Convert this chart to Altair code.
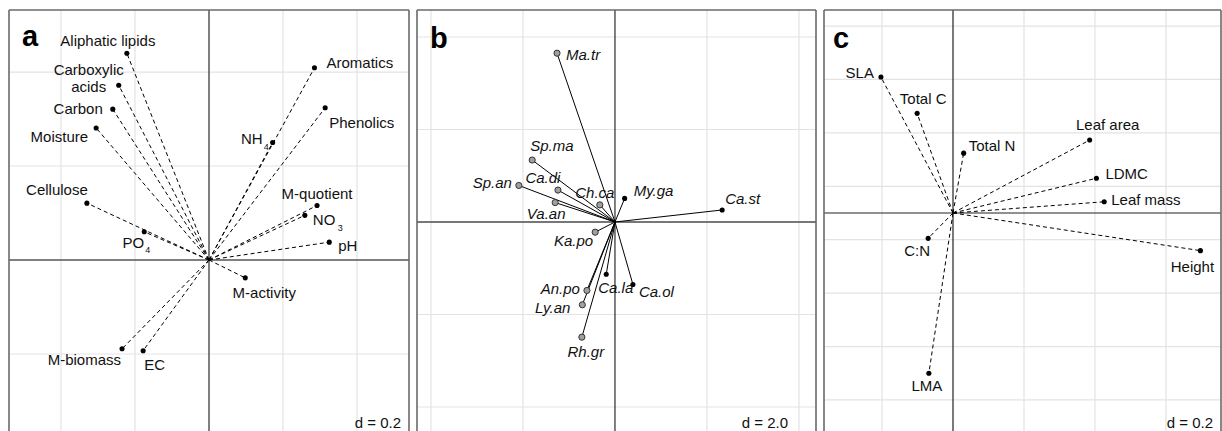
import altair as alt
import pandas as pd

FONT = "Liberation Sans"

# ---------------- Panel a : soil variables ----------------
a_vars = ["Aliphatic lipids", "Carboxylic acids", "Carbon", "Moisture", "Cellulose",
          "PO4", "M-biomass", "EC", "M-activity", "pH", "NO3", "M-quotient",
          "NH4", "Aromatics", "Phenolics"]
a_text = ["Aliphatic lipids", "Carboxylic\nacids", "Carbon", "Moisture", "Cellulose",
          "PO", "M-biomass", "EC", "M-activity", "pH", "NO", "M-quotient",
          "NH", "Aromatics", "Phenolics"]
a_sub = ["", "", "", "", "", "4", "", "", "", "", "3", "", "4", "", ""]
a_x = [-0.222, -0.244, -0.260, -0.305, -0.330, -0.175, -0.235, -0.178, 0.098,
       0.325, 0.259, 0.292, 0.172, 0.285, 0.314]
a_y = [0.440, 0.372, 0.321, 0.281, 0.121, 0.060, -0.189, -0.193, -0.038,
       0.038, 0.095, 0.116, 0.250, 0.409, 0.324]

# ---------------- Panel b : species ----------------
b_species = ["Ma.tr", "Sp.ma", "Sp.an", "Ca.di", "Ch.ca", "My.ga", "Ca.st", "Va.an",
             "Ka.po", "Ca.la", "Ca.ol", "An.po", "Ly.an", "Rh.gr"]
b_x = [-1.26, -1.80, -2.09, -1.24, -0.33, 0.21, 2.33, -1.30, -0.43, -0.19, 0.39,
       -0.61, -0.71, -0.72]
b_y = [3.65, 1.34, 0.79, 0.69, 0.37, 0.51, 0.26, 0.42, -0.22, -1.13, -1.35,
       -1.48, -1.79, -2.49]
b_group = ["grey", "grey", "grey", "grey", "grey", "black", "black", "grey",
           "grey", "black", "black", "grey", "grey", "grey"]

# ---------------- Panel c : leaf traits ----------------
c_traits = ["SLA", "Total C", "Total N", "Leaf area", "LDMC", "Leaf mass",
            "Height", "C:N", "LMA"]
c_x = [-0.203, -0.101, 0.030, 0.385, 0.404, 0.426, 0.697, -0.070, -0.068]
c_y = [0.509, 0.373, 0.224, 0.273, 0.130, 0.042, -0.141, -0.095, -0.600]

# grid values (d spacing)
a_gx = [-0.4, -0.2, 0.2, 0.4]
a_gy = [0.4, 0.2, -0.2]
b_gx = [-4, -2, 2, 4]
b_gy = [4, 2, -2, -4]
c_gx = [-0.2, 0.2, 0.4, 0.6]
c_gy = [0.7, 0.5, 0.3, 0.1, -0.1, -0.3, -0.5, -0.7]

# ---------------- label placement (style: align, dx px, dy px) ----------------
a_lab = [("center", -19, -12), ("center", -30, -15), ("right", -10, 0), ("right", -8, 9),
         ("center", -30, -13), ("right", 0, 11), ("right", -1, 11), ("left", 1, 14),
         ("center", 19, 15), ("left", 9, 4), ("left", 8, 5), ("center", 0, -11),
         ("right", -10, -4), ("left", 12, -5), ("left", 4, 15)]
a_sublab = [None, None, None, None, None, (1, 18), None, None, None, None,
            (33, 13), None, (-9, 4), None, None]
b_lab = [("left", 9, 2), ("left", -2, -14), ("right", -7, -2), ("center", -15, -12),
         ("center", -5, -12), ("left", 9, -7), ("left", 3, -11), ("center", -9, 11),
         ("right", -2, 9), ("left", -8, 14), ("left", 6, 8), ("right", -7, -1),
         ("right", -12, 3), ("center", 4, 15)]
c_lab = [("right", -7, -4), ("center", 6, -14), ("left", 5, -7), ("center", 18, -15),
         ("left", 9, -4), ("left", 7, -2), ("center", -8, 16), ("center", -11, 13),
         ("center", -2, 13)]

H = 422
TXT = "#111111"


def build_panel(names, texts, xs_, ys_, labs, gx, gy, xdom, ydom, W, letter, dtext,
                letter_x, dash, dot_groups=None, italic=False, subs=None, sublabs=None,
                hcolor="#555", vcolor="#555", hwidth=1.5, vwidth=1.5):
    kx = W / (xdom[1] - xdom[0])
    ky = H / (ydom[1] - ydom[0])
    xs = alt.Scale(domain=xdom, nice=False, zero=False)
    ysc = alt.Scale(domain=ydom, nice=False, zero=False)

    df = pd.DataFrame({"name": names, "text": texts, "x": xs_, "y": ys_})
    df["ox"] = 0.0
    df["oy"] = 0.0
    df["align"] = [l[0] for l in labs]
    df["lx"] = [x + l[1] / kx for x, l in zip(xs_, labs)]
    df["ly"] = [y - l[2] / ky for y, l in zip(ys_, labs)]
    df["grp"] = dot_groups if dot_groups else ["black"] * len(names)

    layers = []
    layers.append(alt.Chart(pd.DataFrame({"g": gx})).mark_rule(color="#e3e3e3", strokeWidth=1.2)
                  .encode(x=alt.X("g:Q", scale=xs, axis=None)))
    layers.append(alt.Chart(pd.DataFrame({"g": gy})).mark_rule(color="#e3e3e3", strokeWidth=1.2)
                  .encode(y=alt.Y("g:Q", scale=ysc, axis=None)))
    zero = pd.DataFrame({"z": [0.0]})
    layers.append(alt.Chart(zero).mark_rule(color=vcolor, strokeWidth=vwidth)
                  .encode(x=alt.X("z:Q", scale=xs, axis=None)))
    layers.append(alt.Chart(zero).mark_rule(color=hcolor, strokeWidth=hwidth)
                  .encode(y=alt.Y("z:Q", scale=ysc, axis=None)))

    vec_kw = dict(color="black", strokeWidth=1)
    if dash:
        vec_kw["strokeDash"] = [4, 3]
    base = alt.Chart(df)
    layers.append(base.mark_rule(**vec_kw).encode(
        x=alt.X("ox:Q", scale=xs, axis=None), y=alt.Y("oy:Q", scale=ysc, axis=None),
        x2="x:Q", y2="y:Q"))
    layers.append(base.transform_filter(alt.datum.grp == "black").mark_circle(
        color="black", size=26, opacity=1).encode(
        x=alt.X("x:Q", scale=xs, axis=None), y=alt.Y("y:Q", scale=ysc, axis=None)))
    if dot_groups:
        layers.append(base.transform_filter(alt.datum.grp == "grey").mark_point(
            filled=True, fill="#a0a0a0", stroke="#333", strokeWidth=1, size=38, opacity=1).encode(
            x=alt.X("x:Q", scale=xs, axis=None), y=alt.Y("y:Q", scale=ysc, axis=None)))

    for al in ["left", "center", "right"]:
        tkw = dict(align=al, baseline="middle", font=FONT, fontSize=15, color=TXT,
                   lineBreak="\n", lineHeight=17)
        if italic:
            tkw["fontStyle"] = "italic"
        layers.append(base.transform_filter(alt.datum.align == al).mark_text(**tkw).encode(
            x=alt.X("lx:Q", scale=xs, axis=None), y=alt.Y("ly:Q", scale=ysc, axis=None),
            text="text:N"))

    if subs:
        sd = pd.DataFrame({
            "s": [s for s in subs if s],
            "sx": [x + sl[0] / kx for x, s, sl in zip(xs_, subs, sublabs) if s],
            "sy": [y - sl[1] / ky for y, s, sl in zip(ys_, subs, sublabs) if s],
        })
        layers.append(alt.Chart(sd).mark_text(align="left", baseline="middle", font=FONT,
                                              fontSize=9, color=TXT).encode(
            x=alt.X("sx:Q", scale=xs, axis=None), y=alt.Y("sy:Q", scale=ysc, axis=None),
            text="s:N"))

    layers.append(alt.Chart(pd.DataFrame({"t": [letter]})).mark_text(
        align="left", baseline="alphabetic", font=FONT, fontSize=29, fontWeight="bold",
        color="black").encode(x=alt.value(letter_x), y=alt.value(36 if letter == "a" else 38),
                              text="t:N"))
    layers.append(alt.Chart(pd.DataFrame({"t": [dtext]})).mark_text(
        align="right", baseline="alphabetic", font=FONT, fontSize=15, color=TXT).encode(
        x=alt.value(W - 8 if letter != "b" else W - 28), y=alt.value(418), text="t:N"))

    one = pd.DataFrame({"k": [1]})
    fr = dict(color="#6a6a6a", strokeWidth=1.6)
    layers.append(alt.Chart(one).mark_rule(**fr).encode(
        x=alt.value(0), y=alt.value(0), y2=alt.value(H)))
    layers.append(alt.Chart(one).mark_rule(**fr).encode(
        x=alt.value(W), y=alt.value(0), y2=alt.value(H)))
    layers.append(alt.Chart(one).mark_rule(**fr).encode(
        x=alt.value(0), x2=alt.value(W), y=alt.value(0)))

    return alt.layer(*layers).properties(width=W, height=H)


pa = build_panel(a_vars, a_text, a_x, a_y, a_lab, a_gx, a_gy,
                 [-0.5405, 0.5405], [-0.366, 0.532], 400, "a", "d = 0.2", 13, True,
                 subs=a_sub, sublabs=a_sublab)
pb = build_panel(b_species, b_species, b_x, b_y, b_lab, b_gx, b_gy,
                 [-4.304, 4.37], [-4.541, 4.584], 399, "b", "d = 2.0", 13, False,
                 dot_groups=b_group, italic=True, hcolor="#777", vcolor="#000",
                 hwidth=2, vwidth=1)
pc = build_panel(c_traits, c_traits, c_x, c_y, c_lab, c_gx, c_gy,
                 [-0.3634, 0.755], [-0.820, 0.760], 397, "c", "d = 0.2", 9, True,
                 hcolor="#222", vcolor="#222", hwidth=1.2, vwidth=1.2)

chart = alt.hconcat(pa, pb, pc, spacing=6).properties(
    padding={"left": 8, "top": 9, "right": 0, "bottom": 0}
).configure_view(stroke=None)

chart.save("out.html", embed_options={"renderer": "svg", "actions": False})
